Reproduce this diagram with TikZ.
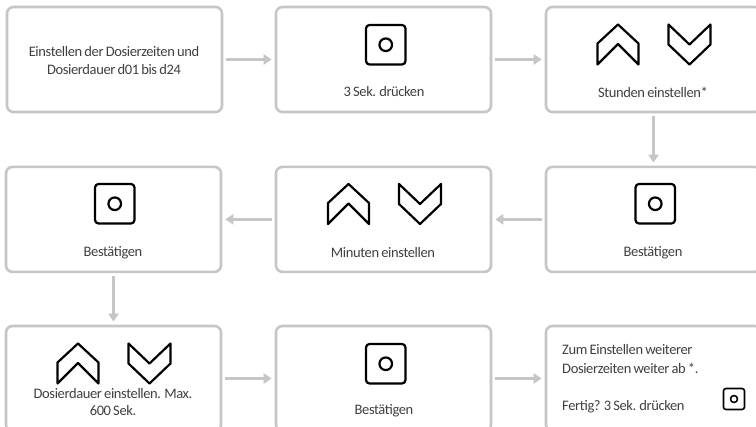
\documentclass[tikz,border=0pt]{standalone}
\usepackage{fontspec}
\setmainfont{Carlito}[LetterSpace=-2.6,WordSpace=0.75]
\definecolor{boxgray}{HTML}{C6C6C6}
\definecolor{txtgray}{HTML}{404040}
\usetikzlibrary{arrows.meta}
\tikzset{
  x=1pt,y=-1pt,
  flowbox/.style={draw=boxgray,line width=2.6pt,rounded corners=6.5pt,fill=white,minimum width=215pt,minimum height=105pt,inner sep=0pt},
  flowarrow/.style={draw=boxgray,line width=2.4pt,shorten <=3pt,shorten >=3pt,-{Triangle[length=8pt,width=10pt]}},
  icon/.style={draw=black,line width=2.2pt,line join=round},
  label/.style={text=txtgray,font=\fontsize{14.5}{18.5}\selectfont,align=center,inner sep=0pt},
}
\newcommand{\updown}[2]{%
  \draw[icon] (#1+0,#2+19) -- (#1+20.5,#2+0) -- (#1+41,#2+19) -- (#1+41,#2+40) -- (#1+20.5,#2+19.5) -- (#1+0,#2+40) -- cycle;
  \draw[icon] (#1+71,#2+0) -- (#1+92,#2+20) -- (#1+113,#2+0) -- (#1+113,#2+20) -- (#1+92,#2+40) -- (#1+71,#2+20) -- cycle;
}
\newcommand{\btn}[2]{%
  \draw[icon,rounded corners=3.5pt] (#1,#2) rectangle (#1+39.5,#2+39.5);
  \draw[icon] (#1+19.75,#2+19.75) circle (6.3pt);
}
\begin{document}
\begin{tikzpicture}
\path[use as bounding box] (0,0) rectangle (756,427);
\clip (0,0) rectangle (756,427);
\fill[white] (0,0) rectangle (756,427);
\node[flowbox] (A) at (114.5,59.5) {};
\node[flowbox] (B) at (383.5,59.5) {};
\node[flowbox] (C) at (653.5,59.5) {};
\node[flowbox] (D) at (653.5,219.4) {};
\node[flowbox] (E) at (383.5,219.4) {};
\node[flowbox] (F) at (113.5,219.4) {};
\node[flowbox] (G) at (113.5,378.5) {};
\node[flowbox] (H) at (383.5,378.5) {};
\node[flowbox] (I) at (653.5,378.5) {};
\draw[flowarrow] (A) -- (B);
\draw[flowarrow] (B) -- (C);
\draw[flowarrow] (C) -- (D);
\draw[flowarrow] (D) -- (E);
\draw[flowarrow] (E) -- (F);
\draw[flowarrow] (F) -- (G);
\draw[flowarrow] (G) -- (H);
\draw[flowarrow] (H) -- (I);
\btn{366}{25}
\updown{597.5}{24.5}
\btn{635.5}{184}
\updown{328}{184}
\btn{95}{184}
\updown{57.5}{343.5}
\btn{366}{344}
\draw[icon,line width=1.6pt,rounded corners=2.5pt] (723.5,388.5) rectangle (744.5,409.5);
\draw[icon,line width=1.6pt] (734,399) circle (3.5pt);
\node[label] (tA) at (114,60.5) {Einstellen der Dosierzeiten und\\Dosierdauer d01 bis d24};
\node[label] (tB) at (384,92) {3 Sek. drücken};
\node[label] (tC) at (653,92) {Stunden einstellen*};
\node[label] (tD) at (653,252.5) {Bestätigen};
\node[label] (tE) at (383,252.5) {Minuten einstellen};
\node[label] (tF) at (113,252.5) {Bestätigen};
\node[label,font=\fontsize{14.5}{17}\selectfont] (tG) at (113,402.5) {Dosierdauer einstellen. Max.\\600 Sek.};
\node[label] (tH) at (384,410.5) {Bestätigen};
\node[label,align=left,anchor=north west] (tI) at (562,344.5) {Zum Einstellen weiterer\\Dosierzeiten weiter ab *.\\[18.5pt]Fertig? 3 Sek. drücken};
\end{tikzpicture}
\end{document}
